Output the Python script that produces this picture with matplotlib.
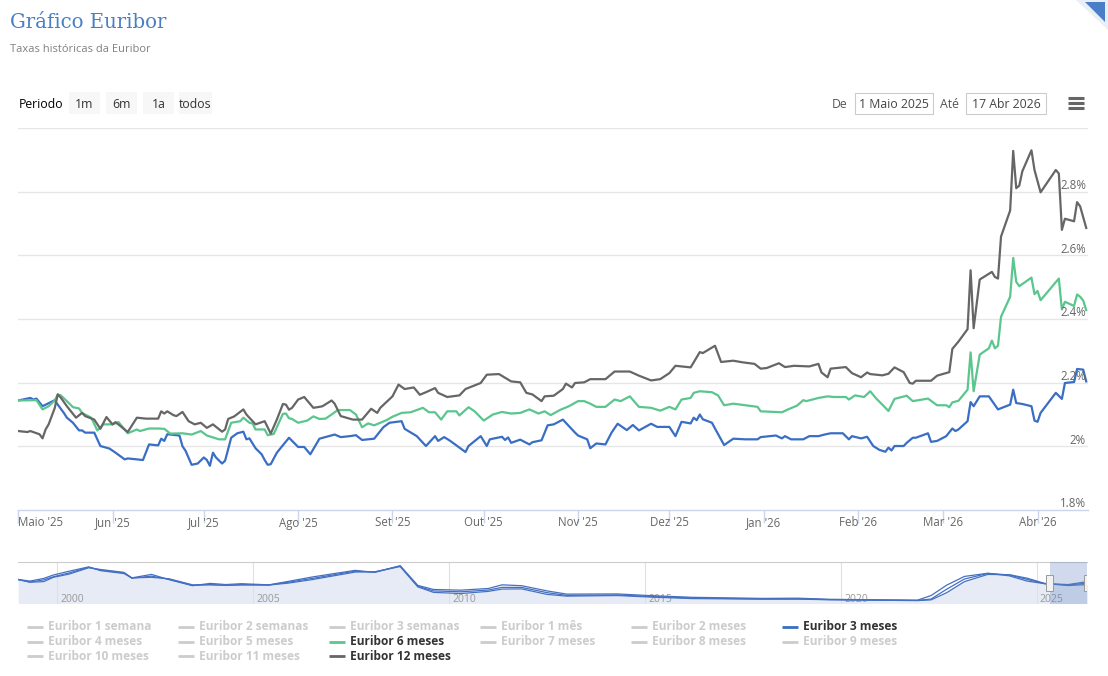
"""
Gráfico Euribor - taxas diárias (3, 6 e 12 meses) com navegador histórico
"""
import numpy as np
import matplotlib
matplotlib.use('Agg')
import matplotlib.pyplot as plt
import matplotlib.patches as mpatches
from matplotlib import transforms

# ---------------------------------------------------------------------------
# dados (dias contados a partir de 1 Maio 2025, taxas em %)
# ---------------------------------------------------------------------------
inicio = np.datetime64('2025-05-01')

dias_3m = [0, 4, 5, 6, 8, 12, 13, 15, 16, 18, 20, 21, 22, 25, 27, 30, 32, 35, 36, 41, 43, 46, 47, 48,
           49, 53, 54, 55, 57, 59, 61, 62, 63, 64, 65, 67, 68, 70, 72, 74, 75, 76, 78, 80, 81, 82, 83, 85,
           89, 92, 94, 96, 99, 102, 104, 106, 109, 111, 113, 117, 120, 122, 126, 127, 131, 134, 137, 138,
           140, 142, 145, 147, 148, 152, 154, 155, 159, 160, 161, 162, 165, 168, 169, 172, 174, 176, 179, 183,
           184, 187, 188, 190, 193, 195, 197, 200, 202, 204, 208, 210, 214, 216, 218, 221, 222, 223, 224, 225,
           228, 229, 232, 235, 239, 243, 244, 249, 251, 252, 254, 258, 260, 263, 265, 267, 271, 273, 274, 277,
           279, 281,
           283, 285, 286, 287, 288, 291, 292, 294, 295, 299, 300, 302, 305, 307, 308, 309, 312, 313, 314, 316,
           319, 322, 326, 327, 328, 330, 333, 334, 335, 336, 341, 343, 344, 347, 348, 350, 351]
taxa_3m = [2.144, 2.152, 2.147, 2.150, 2.126, 2.145, 2.131, 2.105, 2.090, 2.074, 2.050, 2.050, 2.043, 2.043,
           2.001, 1.993, 1.980, 1.959, 1.962, 1.957, 2.006, 2.003, 2.024, 2.017,
           2.038, 2.034, 2.000, 1.986, 1.942, 1.946, 1.965, 1.957, 1.939, 1.980, 1.965, 1.946, 1.955, 2.027,
           2.041, 2.046, 2.022, 2.025, 1.994, 1.975, 1.957, 1.942, 1.944, 1.980,
           2.027, 1.998, 1.998, 1.975, 2.024, 2.032, 2.037, 2.029, 2.032, 2.035, 2.020, 2.024, 2.060, 2.074,
           2.079, 2.055, 2.032, 2.001, 2.032, 2.017,
           2.029, 2.017, 1.996, 1.982, 2.001, 2.032, 2.001, 2.022, 2.030, 2.020, 2.028, 2.011, 2.021, 2.006,
           2.013, 2.019, 2.066, 2.069, 2.084, 2.043,
           2.034, 2.022, 1.994, 2.009, 2.006, 2.043, 2.071, 2.051, 2.067, 2.050, 2.071, 2.061, 2.061, 2.032,
           2.077, 2.072, 2.090, 2.082, 2.100, 2.085,
           2.074, 2.056, 2.004, 2.024, 2.022, 2.022, 2.029, 2.034, 2.025, 2.032, 2.022, 2.022, 2.032, 2.032,
           2.037, 2.041, 2.041, 2.022, 2.032, 2.025,
           2.030, 2.001,
           1.989, 1.983, 1.996, 1.987, 2.001, 2.001, 2.011, 2.027, 2.027, 2.041, 2.014, 2.017, 2.032, 2.056,
           2.048, 2.053, 2.079, 2.139, 2.126, 2.157,
           2.157, 2.116, 2.131, 2.178, 2.136, 2.133, 2.126, 2.081, 2.077, 2.105, 2.168, 2.149, 2.199, 2.202,
           2.243, 2.241, 2.204]

dias_6m = [0, 6, 8, 10, 12, 13, 14, 16, 18, 20, 21, 22, 24, 26, 28, 31, 33, 36, 39, 40, 43, 46, 48, 50,
           54, 57, 60, 62, 66, 68, 70, 73, 74, 76, 77, 78, 81, 82, 84, 87,
           88, 89, 90, 92, 95, 97, 99, 101, 103, 105, 109, 111, 113, 115, 117, 121, 123, 126, 129, 133,
           135, 137, 139, 141, 144, 145, 148, 150, 153, 156, 159, 162, 165, 168, 171, 173, 175, 178, 181,
           184, 186, 188, 190, 193, 196, 198, 201, 204, 208, 211, 214, 216, 218, 221, 222, 224, 228, 230, 232,
           235, 239, 243, 244, 251, 253, 256, 258, 259, 263, 266, 268, 272, 273, 275, 278, 280, 282,
           284, 286, 288, 292, 294, 299, 302, 305, 306, 307, 309, 312, 313, 314, 316, 319, 320, 321, 322, 323,
           326, 327, 328, 329, 333, 334, 335, 336, 342, 343, 344, 347, 348, 349, 350, 351]
taxa_6m = [2.144, 2.145, 2.116, 2.126, 2.144, 2.163, 2.160, 2.142, 2.123, 2.119, 2.105, 2.100, 2.090, 2.050,
           2.069, 2.069, 2.076, 2.041, 2.053, 2.048, 2.056, 2.056, 2.055, 2.040,
           2.041, 2.037, 2.048, 2.034, 2.022, 2.022, 2.074, 2.079, 2.090, 2.074, 2.072, 2.053, 2.053, 2.035,
           2.039, 2.102,
           2.103, 2.088, 2.086, 2.074, 2.081, 2.094, 2.086, 2.087, 2.100, 2.114, 2.114, 2.100, 2.060, 2.072,
           2.066, 2.082, 2.093, 2.105, 2.107, 2.121,
           2.107, 2.107, 2.084, 2.110, 2.110, 2.097, 2.123, 2.110, 2.081, 2.100, 2.108, 2.103, 2.105, 2.116,
           2.103, 2.110, 2.098, 2.114, 2.126,
           2.142, 2.142, 2.134, 2.124, 2.124, 2.147, 2.142, 2.157, 2.124, 2.121, 2.112, 2.124, 2.116, 2.147,
           2.152, 2.168, 2.173, 2.170, 2.160, 2.129,
           2.134, 2.129, 2.124, 2.110, 2.107, 2.116, 2.128, 2.145, 2.142, 2.152, 2.157, 2.155, 2.155, 2.147,
           2.160, 2.155, 2.173, 2.150,
           2.131, 2.111, 2.149, 2.159, 2.142, 2.150, 2.129, 2.129, 2.123, 2.138, 2.143, 2.178, 2.295, 2.173,
           2.288, 2.308, 2.332, 2.308, 2.316, 2.407,
           2.470, 2.592, 2.517, 2.503, 2.530, 2.478, 2.488, 2.459, 2.527, 2.430, 2.454, 2.441, 2.477, 2.470,
           2.458, 2.428]

dias_12m = [0, 3, 4, 7, 8, 9, 10, 12, 13, 14, 16, 18, 19, 21, 22, 25, 27, 29, 31, 32, 36, 39, 42, 46,
            47, 48, 49, 51, 52, 54, 56, 58, 60, 62, 64, 67, 68, 69, 71, 74, 75, 77, 78, 81, 83, 85, 87,
            88, 89, 90, 92, 94, 97, 99, 100, 103, 104, 106, 110, 113, 116, 118, 119, 123, 125, 127, 130,
            132, 134, 137, 138, 141, 145, 147, 152, 154, 158, 162, 165, 167, 169, 172, 173, 176, 179, 180,
            182, 183, 186, 188,
            193, 196, 201, 204, 208, 211, 214, 216, 221, 224, 225, 229, 231, 235, 238, 242, 244, 246, 250,
            252, 255, 260, 263, 264, 266, 267, 272, 274, 277, 279, 280,
            284, 286, 288, 291, 293, 294, 295, 300, 302, 306, 307, 309, 311, 312, 313, 314, 316, 320, 321,
            322, 323, 326, 327, 328, 329, 330, 333, 334, 336, 341, 342, 343, 344, 347, 348, 349, 351]
taxa_12m = [2.048, 2.045, 2.048, 2.038, 2.025, 2.053, 2.069, 2.120, 2.163, 2.153, 2.126, 2.102, 2.090, 2.105,
            2.095, 2.084, 2.055, 2.092, 2.069, 2.076, 2.045, 2.090, 2.087, 2.087,
            2.110, 2.103, 2.110, 2.098, 2.095, 2.108, 2.079, 2.069, 2.074, 2.058, 2.069, 2.046, 2.053, 2.086,
            2.094, 2.116, 2.100, 2.079, 2.069, 2.079, 2.040, 2.084, 2.133,
            2.131, 2.115, 2.121, 2.147, 2.155, 2.121, 2.124, 2.126, 2.144, 2.134, 2.095, 2.084, 2.084, 2.118,
            2.105, 2.121, 2.157, 2.194, 2.180, 2.185,
            2.162, 2.170, 2.183, 2.168, 2.155, 2.160, 2.180, 2.199, 2.225, 2.227, 2.204, 2.201, 2.168, 2.163,
            2.142, 2.157, 2.159, 2.180, 2.197,
            2.185, 2.199, 2.201, 2.211,
            2.211, 2.235, 2.235, 2.222, 2.207, 2.211, 2.230, 2.253, 2.248, 2.296, 2.293, 2.316, 2.265, 2.269,
            2.264, 2.259, 2.244, 2.246, 2.261,
            2.249, 2.253, 2.251, 2.259, 2.232, 2.217, 2.244, 2.249, 2.230, 2.217, 2.232, 2.227,
            2.223, 2.228, 2.248, 2.233, 2.199, 2.197, 2.206, 2.206, 2.222, 2.233, 2.306, 2.329, 2.355, 2.368,
            2.553, 2.371, 2.524, 2.548, 2.532,
            2.527, 2.659, 2.741, 2.928, 2.811, 2.819, 2.864, 2.930, 2.868, 2.798, 2.868, 2.857, 2.680, 2.715,
            2.707, 2.767, 2.754, 2.686]

assert len(dias_3m) == len(taxa_3m)
assert len(dias_6m) == len(taxa_6m)
assert len(dias_12m) == len(taxa_12m)

# navegador: historico desde 1999 (anos decimais)
nav_anos = [1999.00, 1999.30, 1999.65, 1999.90, 2000.30, 2000.80, 2001.10, 2001.70, 2001.90, 2002.40,
            2002.85, 2003.45, 2003.90, 2004.30, 2004.70, 2005.40, 2005.90, 2006.50, 2007.60, 2008.10,
            2008.75, 2009.20, 2009.60, 2010.30, 2011.00, 2011.35, 2011.85, 2012.50, 2013.00, 2014.30,
            2015.10, 2016.20, 2018.00, 2018.90, 2019.70, 2020.70, 2021.95, 2022.30, 2022.70, 2023.15,
            2023.75, 2024.30, 2024.75, 2025.20, 2025.80, 2026.29]
nav_3m = [3.09, 2.60, 2.70, 3.45, 4.00, 5.10, 4.80, 4.30, 3.35, 3.45, 3.20, 2.15, 2.15, 2.05, 2.12, 2.12,
          2.45, 3.05, 4.35, 4.40, 5.30, 1.80, 0.85, 0.65, 1.02, 1.42, 1.45, 0.50, 0.20, 0.30, 0.05, -0.22,
          -0.33, -0.32, -0.42, -0.49, -0.57, -0.45, 0.80, 2.70, 3.95, 3.90, 3.30, 2.40, 2.03, 2.20]
nav_6m = [3.05, 2.63, 3.00, 3.55, 4.20, 5.17, 4.70, 4.20, 3.30, 3.65, 3.10, 2.05, 2.20, 2.08, 2.20, 2.12,
          2.60, 3.25, 4.50, 4.35, 5.40, 1.90, 1.10, 0.95, 1.25, 1.72, 1.70, 0.80, 0.33, 0.40, 0.15, -0.12,
          -0.27, -0.26, -0.40, -0.46, -0.54, -0.30, 1.40, 3.15, 4.12, 3.85, 3.10, 2.35, 2.12, 2.45]
nav_12m = [3.07, 2.80, 3.25, 3.85, 4.50, 5.25, 4.60, 4.10, 3.35, 3.95, 3.05, 2.00, 2.40, 2.20, 2.35, 2.15,
           2.75, 3.50, 4.65, 4.30, 5.45, 2.05, 1.35, 1.23, 1.52, 2.15, 2.00, 1.10, 0.55, 0.58, 0.30, 0.00,
           -0.19, -0.15, -0.34, -0.42, -0.50, 0.30, 2.10, 3.60, 4.15, 3.70, 2.80, 2.35, 2.20, 2.70]

meses = ['2025-05-01', '2025-06-01', '2025-07-01', '2025-08-01', '2025-09-01', '2025-10-01',
         '2025-11-01', '2025-12-01', '2026-01-01', '2026-02-01', '2026-03-01', '2026-04-01']
rotulos_meses = ["Maio '25", "Jun '25", "Jul '25", "Ago '25", "Set '25", "Out '25",
                 "Nov '25", "Dez '25", "Jan '26", "Feb '26", "Mar '26", "Abr '26"]
niveis_y = [1.8, 2.0, 2.2, 2.4, 2.6, 2.8, 3.0]
anos_nav = [2000, 2005, 2010, 2015, 2020, 2025]
selecao = (2025.33, 2026.29)

legenda = [['Euribor 1 semana', 'Euribor 2 semanas', 'Euribor 3 semanas', 'Euribor 1 mês',
            'Euribor 2 meses', 'Euribor 3 meses'],
           ['Euribor 4 meses', 'Euribor 5 meses', 'Euribor 6 meses', 'Euribor 7 meses',
            'Euribor 8 meses', 'Euribor 9 meses'],
           ['Euribor 10 meses', 'Euribor 11 meses', 'Euribor 12 meses']]

AZUL = '#3a6ec4'
VERDE = '#5ac68e'
CINZA = '#666666'
cores_ativas = {'Euribor 3 meses': AZUL, 'Euribor 6 meses': VERDE, 'Euribor 12 meses': CINZA}

FONTE = ['Open Sans', 'DejaVu Sans']
plt.rcParams['font.family'] = FONTE

W, H = 1108, 676
fig = plt.figure(figsize=(W / 100, H / 100), dpi=100)
fig.patch.set_facecolor('white')


def eixos_px(x0, y0, x1, y1, **kw):
    return fig.add_axes([x0 / W, 1 - y1 / H, (x1 - x0) / W, (y1 - y0) / H], **kw)


# camada de interface em pixels
ui = fig.add_axes([0, 0, 1, 1], zorder=0)
ui.set_xlim(0, W)
ui.set_ylim(H, 0)
ui.axis('off')

ui.text(10, 22, 'Gráfico Euribor', fontsize=14.2, color='#4a7fc4', family='DejaVu Serif',
        va='center', ha='left')
ui.text(10, 49, 'Taxas históricas da Euribor', fontsize=8, color='#808080', va='center')

# canto dobrado
ui.add_patch(mpatches.Polygon([[1076, 0], [1108, 0], [1108, 30]], closed=True,
                              facecolor='#e9eef7', edgecolor='none'))
ui.add_patch(mpatches.Polygon([[1085, 2], [1105, 2], [1105, 22]], closed=True,
                              facecolor='#4a7fc8', edgecolor='none'))

# botoes de periodo
ui.text(19, 104, 'Periodo', fontsize=8.8, color='#000000', va='center')
for rot, x0, x1 in [('1m', 69, 100), ('6m', 106, 137), ('1a', 143, 174), ('todos', 179, 212)]:
    ui.add_patch(mpatches.Rectangle((x0, 92), x1 - x0, 22, facecolor='#f7f7f7', edgecolor='none'))
    ui.text((x0 + x1) / 2, 104, rot, fontsize=8.8, color='#333333', ha='center', va='center')

ui.text(840, 104, 'De', fontsize=8.8, color='#555555', ha='center', va='center')
ui.add_patch(mpatches.Rectangle((855, 93), 78, 21, facecolor='white', edgecolor='#cccccc', lw=0.8))
ui.text(894, 104, '1 Maio 2025', fontsize=8.8, color='#444444', ha='center', va='center')
ui.text(949, 104, 'Até', fontsize=8.8, color='#555555', ha='center', va='center')
ui.add_patch(mpatches.Rectangle((966, 93), 80, 21, facecolor='white', edgecolor='#cccccc', lw=0.8))
ui.text(1006, 104, '17 Abr 2026', fontsize=8.8, color='#444444', ha='center', va='center')
for yy in (98, 103, 108):
    ui.plot([1068, 1084], [yy, yy], color='#666666', lw=2.2, solid_capstyle='butt')

# ---------------------------------------------------------------------------
# grafico principal
# ---------------------------------------------------------------------------
ax = eixos_px(18.2, 128, 1088, 510, zorder=2)
ax.patch.set_alpha(0)
for s in ['top', 'left', 'right']:
    ax.spines[s].set_visible(False)
ax.spines['bottom'].set_color('#ccd6eb')
ax.spines['bottom'].set_linewidth(1)

ax.set_xlim(inicio, inicio + np.timedelta64(351 * 24 + 14, 'h'))
ax.set_ylim(1.8, 3.0)

for v in niveis_y[1:]:
    ax.axhline(v, color='#e6e6e6', lw=1, zorder=0)

datas_3m = inicio + np.array(dias_3m, dtype='timedelta64[D]')
datas_6m = inicio + np.array(dias_6m, dtype='timedelta64[D]')
datas_12m = inicio + np.array(dias_12m, dtype='timedelta64[D]')
ax.plot(datas_3m, taxa_3m, color=AZUL, lw=1.6, zorder=3, solid_joinstyle='round')
ax.plot(datas_6m, taxa_6m, color=VERDE, lw=1.6, zorder=4, solid_joinstyle='round')
ax.plot(datas_12m, taxa_12m, color=CINZA, lw=1.6, zorder=5, solid_joinstyle='round')

ax.set_yticks([])
ticks = np.array(meses, dtype='datetime64[D]')
ax.set_xticks(ticks)
ax.set_xticklabels([])
ax.tick_params(axis='x', length=9, width=1, color='#ccd6eb', direction='out')

# rotulos do eixo x
desloc_x = transforms.offset_copy(ax.get_xaxis_transform(), fig=fig, x=0, y=-13, units='dots')
for i, (d, rot) in enumerate(zip(ticks, rotulos_meses)):
    ax.text(d, 0, rot, transform=desloc_x, fontsize=8.3, color='#666666',
            ha='left' if i == 0 else 'center', va='center')

# rotulos do eixo y (dentro, a direita)
desloc_y = transforms.offset_copy(ax.get_yaxis_transform(), fig=fig, x=-2, y=6, units='dots')
for v in niveis_y[:-1]:
    rot = f'{v:g}%'
    ax.text(1, v, rot, transform=desloc_y, fontsize=8.3, color='#666666', ha='right', va='center',
            zorder=6)

# ---------------------------------------------------------------------------
# navegador
# ---------------------------------------------------------------------------
axn = eixos_px(18.2, 562, 1086.6, 603.5, zorder=2)
axn.set_xlim(1999.0, 2026.27)
axn.set_ylim(-1.07, 6.09)
for s in ['bottom', 'left', 'right']:
    axn.spines[s].set_visible(False)
axn.spines['top'].set_color('#cccccc')
axn.set_xticks([])
axn.set_yticks([])
axn.patch.set_alpha(0)

axn.fill_between(nav_anos, nav_3m, -1.07, color='#e6ebf5', lw=0, zorder=1)
for a in anos_nav:
    axn.axvline(a, color='#e0e0e0', lw=0.8, zorder=2)
    axn.text(a, 0.1, str(a), transform=transforms.offset_copy(axn.get_xaxis_transform(), fig=fig,
                                                            x=3, y=0, units='dots'),
             fontsize=7.5, color='#999999', ha='left', va='center', zorder=3)
for serie in (nav_12m, nav_6m, nav_3m):
    axn.plot(nav_anos, serie, color='#4570c2', lw=0.9, zorder=4)

axn.axvspan(selecao[0], selecao[1], color=(102 / 255, 133 / 255, 194 / 255), alpha=0.3, lw=0, zorder=5)
for xs in selecao:
    axn.add_patch(mpatches.Rectangle((xs - 0.09, 0.3), 0.18, 0.38, transform=axn.get_xaxis_transform(),
                                     facecolor='#f2f2f2', edgecolor='#999999', lw=0.7, zorder=6))

# ---------------------------------------------------------------------------
# legenda
# ---------------------------------------------------------------------------
for li, linha in enumerate(legenda):
    y = 627 + li * 14.5
    for ci, nome in enumerate(linha):
        x = 27 + ci * 151
        ativo = nome in cores_ativas
        cor_l = cores_ativas.get(nome, '#cccccc')
        ui.plot([x, x + 16], [y, y], color=cor_l, lw=2, solid_capstyle='butt')
        ui.text(x + 21, y, nome, fontsize=8.6, fontweight='bold',
                color='#333333' if ativo else '#cccccc', va='center', ha='left')

fig.savefig('out.png', dpi=100, facecolor='white')
